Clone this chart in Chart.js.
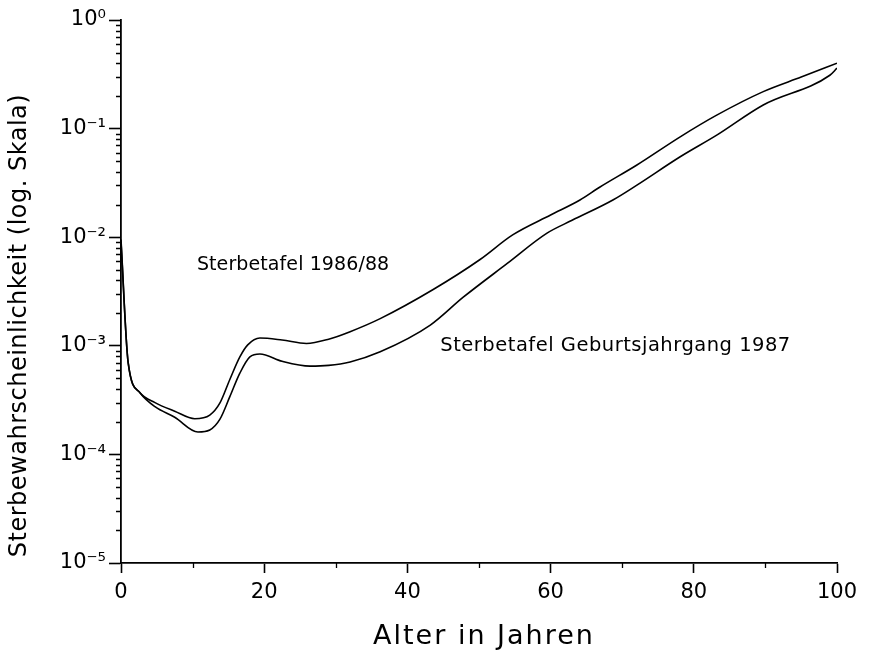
<!DOCTYPE html>
<html>
<head>
<meta charset="utf-8">
<script src="https://cdn.jsdelivr.net/npm/chart.js@4.4.1/dist/chart.umd.min.js"></script>
<style>
  html, body { margin: 0; padding: 0; background: #fff; }
  #c { display: block; }
</style>
</head>
<body>
<canvas id="c" width="873" height="659"></canvas>
<script>
// ---- data ----
const agesTafel = [0, 1, 2.65, 4.75, 7.5, 10.3, 12.4, 13.8, 15.2, 16.6, 17.7, 19.4, 22.5, 25.9, 29, 32, 36.2, 43.6, 50.1, 54.7, 60, 64.1, 66.9, 72, 78.1, 83.2, 89.7, 95, 100];
const qTafel = [0.0095, 0.0007, 0.00037, 0.0003, 0.00025, 0.000213, 0.00023, 0.000296, 0.00049, 0.00079, 0.00102, 0.00118, 0.00113, 0.00105, 0.00115, 0.00135, 0.00178, 0.0033, 0.0062, 0.0105, 0.016, 0.022, 0.029, 0.046, 0.084, 0.133, 0.219, 0.298, 0.40];

const agesKohorte = [0, 1, 2.65, 4.75, 7.5, 10.75, 12.4, 13.8, 15.2, 16.6, 18, 19.4, 22.5, 26.4, 29, 32, 36.2, 43.2, 47.8, 53.9, 59.5, 63, 68.7, 72, 78.1, 83.2, 89.7, 99, 100];
const qKohorte = [0.009, 0.0007, 0.00037, 0.000275, 0.00022, 0.000161, 0.000168, 0.00021, 0.00034, 0.00056, 0.00079, 0.00084, 0.00072, 0.00065, 0.00066, 0.00071, 0.00088, 0.00155, 0.0028, 0.0057, 0.0109, 0.0143, 0.022, 0.030, 0.055, 0.087, 0.165, 0.31, 0.36];

const seriesNames = ['Sterbetafel 1986/88', 'Sterbetafel Geburtsjahrgang 1987'];
const xTickValues = [0, 20, 40, 60, 80, 100];
const xMinorTicks = [10, 30, 50, 70, 90];
const yTickValues = [1e-5, 1e-4, 1e-3, 1e-2, 1e-1, 1];
const yTickLabels = ['10\u207B\u2075', '10\u207B\u2074', '10\u207B\u00B3', '10\u207B\u00B2', '10\u207B\u00B9', '10\u2070'];
const xTitle = 'Alter in Jahren';
const yTitle = 'Sterbewahrscheinlichkeit (log. Skala)';

// ---- build ----
const FONT = '"DejaVu Sans", "Liberation Sans", sans-serif';
function pts(xs, ys) { return xs.map((x, i) => ({ x: x, y: ys[i] })); }

const minorTicksPlugin = {
  id: 'minorTicks',
  afterDraw(chart) {
    const ctx = chart.ctx, ca = chart.chartArea;
    const xs = chart.scales.x, ys = chart.scales.y;
    ctx.save();
    ctx.strokeStyle = '#000';
    ctx.lineWidth = 1.3;
    ctx.beginPath();
    for (let e = -5; e < 0; e++) {
      for (let m = 2; m <= 9; m++) {
        const py = Math.round(ys.getPixelForValue(m * Math.pow(10, e))) + 0.5;
        ctx.moveTo(ca.left - 5, py);
        ctx.lineTo(ca.left, py);
      }
    }
    xMinorTicks.forEach(v => {
      const px = Math.round(xs.getPixelForValue(v)) + 0.5;
      ctx.moveTo(px, ca.bottom);
      ctx.lineTo(px, ca.bottom + 5);
    });
    ctx.stroke();
    ctx.restore();
  }
};

const labelPlugin = {
  id: 'seriesLabels',
  afterDatasetsDraw(chart) {
    const ctx = chart.ctx;
    const xs = chart.scales.x, ys = chart.scales.y;
    const anchors = [[10.6, 0.0055], [44.6, 0.001]];
    const styles = [['19px', '0.1px'], ['19.5px', '0.5px']];
    ctx.save();
    ctx.fillStyle = '#000';
    ctx.textAlign = 'left';
    ctx.textBaseline = 'middle';
    seriesNames.forEach((t, i) => {
      ctx.font = styles[i][0] + ' ' + FONT;
      try { ctx.letterSpacing = styles[i][1]; } catch (e) {}
      ctx.fillText(t, xs.getPixelForValue(anchors[i][0]), ys.getPixelForValue(anchors[i][1]));
    });
    ctx.restore();
  }
};

const titlePlugin = {
  id: 'axisTitles',
  afterDraw(chart) {
    const ctx = chart.ctx, ca = chart.chartArea;
    ctx.save();
    ctx.fillStyle = '#000';
    ctx.textAlign = 'center';
    ctx.textBaseline = 'middle';
    // x title
    ctx.font = '27px ' + FONT;
    try { ctx.letterSpacing = '2px'; } catch (e) {}
    ctx.fillText(xTitle, (ca.left + ca.right) / 2 + 5, ca.bottom + 74);
    // y title
    ctx.font = '24px ' + FONT;
    try { ctx.letterSpacing = '0.5px'; } catch (e) {}
    ctx.translate(20, (ca.top + ca.bottom) / 2 + 34);
    ctx.rotate(-Math.PI / 2);
    ctx.fillText(yTitle, 0, 0);
    ctx.restore();
  }
};

new Chart(document.getElementById('c'), {
  type: 'line',
  data: {
    datasets: [
      { label: seriesNames[0], data: pts(agesTafel, qTafel) },
      { label: seriesNames[1], data: pts(agesKohorte, qKohorte) }
    ].map(d => Object.assign(d, {
      borderColor: '#000', borderWidth: 1.6, pointRadius: 0,
      fill: false, cubicInterpolationMode: 'monotone'
    }))
  },
  options: {
    responsive: false,
    devicePixelRatio: 1,
    animation: false,
    layout: { padding: { left: 0, right: 36, top: 20, bottom: 0 } },
    plugins: { legend: { display: false }, tooltip: { enabled: false } },
    scales: {
      x: {
        type: 'linear', min: 0, max: 100,
        afterBuildTicks(s) { s.ticks = xTickValues.map(v => ({ value: v })); },
        afterFit(s) { s.height = 96; },
        ticks: { color: '#000', font: { family: FONT, size: 21 }, padding: 7, maxRotation: 0, autoSkip: false },
        grid: { drawOnChartArea: false, drawTicks: true, tickLength: 10, tickColor: '#000', tickWidth: 1.6 },
        border: { color: '#000', width: 1.8 },
        title: { display: false }
      },
      y: {
        type: 'logarithmic', min: 1e-5, max: 1,
        afterBuildTicks(s) { s.ticks = yTickValues.map(v => ({ value: v })); },
        afterFit(s) { s.width = 121; },
        ticks: {
          color: '#000', font: { family: FONT, size: 21 }, padding: 3, autoSkip: false,
          callback(v) { const i = yTickValues.findIndex(t => Math.abs(Math.log10(t) - Math.log10(v)) < 1e-6); return i >= 0 ? yTickLabels[i] : ''; }
        },
        grid: { drawOnChartArea: false, drawTicks: true, tickLength: 12, tickColor: '#000', tickWidth: 1.6 },
        border: { color: '#000', width: 1.8 },
        title: { display: false }
      }
    }
  },
  plugins: [minorTicksPlugin, labelPlugin, titlePlugin]
});
</script>
</body>
</html>
